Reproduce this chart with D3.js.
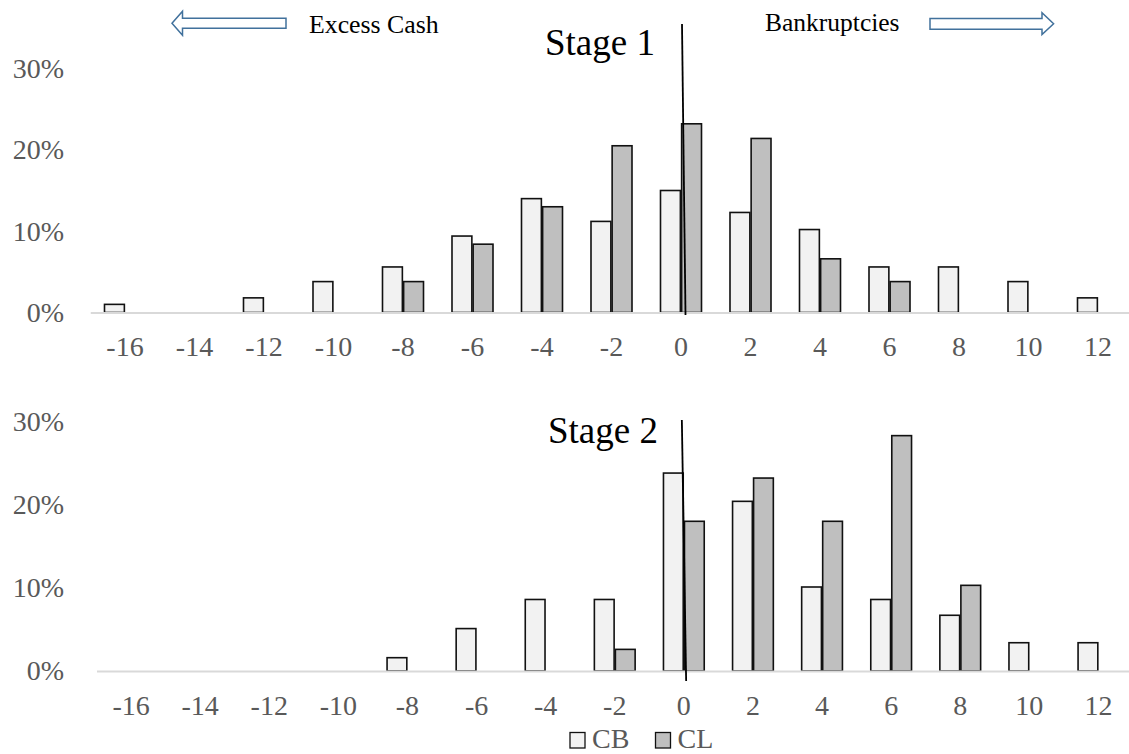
<!DOCTYPE html>
<html>
<head>
<meta charset="utf-8">
<script src="https://cdn.jsdelivr.net/npm/d3@7"></script>
<style>
  body { margin: 0; background: #fff; }
  svg { display: block; }
  text { font-family: "Liberation Serif", "Times New Roman", serif; }
</style>
</head>
<body>
<svg id="grafico" width="1129" height="754"></svg>
<script>
// categorias (diferença) e séries em %
var categorias = [-16, -14, -12, -10, -8, -6, -4, -2, 0, 2, 4, 6, 8, 10, 12]
var series = ["CB", "CL"]
var stage1CB = [1.0, 0, 1.8, 3.8, 5.6, 9.4, 14.0, 11.2, 15.0, 12.3, 10.2, 5.6, 5.6, 3.8, 1.8]
var stage1CL = [0, 0, 0, 0, 3.8, 8.4, 13.0, 20.5, 23.2, 21.4, 6.6, 3.8, 0, 0, 0]
var stage2CB = [0, 0, 0, 0, 1.6, 5.1, 8.6, 8.6, 23.8, 20.4, 10.1, 8.6, 6.7, 3.4, 3.4]
var stage2CL = [0, 0, 0, 0, 0, 0, 0, 2.6, 18.0, 23.2, 18.0, 28.3, 10.3, 0, 0]
var yTicks = [0, 10, 20, 30]

var cores = {CB: "#f2f2f2", CL: "#bfbfbf"},
    cinza = "#595959",
    azul = "#41719c",
    fonte = "'Liberation Serif', 'Times New Roman', serif"

var svg = d3.select("#grafico")

// paineis: posicao de cada grafico
var paineis = [
  {titulo: "Stage 1", cb: stage1CB, cl: stage1CL, x0: 90.25, x1: 1132.75, yBase: 312.5, yTopo: 68.5,
   linha: [1, 24, 4.5, 315], tituloX: 545, tituloY: 55},
  {titulo: "Stage 2", cb: stage2CB, cl: stage2CL, x0: 96.5, x1: 1133, yBase: 671, yTopo: 421.5,
   linha: [-2, 420, 2.3, 681], tituloX: 548, tituloY: 443}
]

paineis.forEach(function(p) {
  var x = d3.scaleBand().domain(categorias).range([p.x0, p.x1])
      .paddingInner(0.41).paddingOuter(0.205)
  var xs = d3.scaleBand().domain(series).range([0, x.bandwidth()]).paddingInner(0.06)
  var y = d3.scaleLinear().domain([0, 30]).range([p.yBase, p.yTopo])

  var dados = []
  categorias.forEach(function(c, i) {
    dados.push({cat: c, serie: "CB", v: p.cb[i]})
    dados.push({cat: c, serie: "CL", v: p.cl[i]})
  })

  var g = svg.append("g")

  // eixo y (só rótulos)
  var eixoY = g.append("g")
      .attr("transform", "translate(66,0)")
      .call(d3.axisLeft(y).tickValues(yTicks).tickSize(0).tickPadding(2)
            .tickFormat(function(d) { return d + "%" }))
  eixoY.select(".domain").remove()
  eixoY.selectAll("text").attr("fill", cinza).style("font-size", "28px")
      .style("font-family", fonte)

  // barras
  g.selectAll("rect.barra")
      .data(dados.filter(function(d) { return d.v > 0 }))
    .enter().append("rect")
      .attr("class", "barra")
      .attr("x", function(d) { return x(d.cat) + xs(d.serie) })
      .attr("width", xs.bandwidth())
      .attr("y", function(d) { return y(d.v) })
      .attr("height", function(d) { return y(0) - y(d.v) })
      .attr("fill", function(d) { return cores[d.serie] })
      .attr("stroke", "#111")
      .attr("stroke-width", 1.6)

  // eixo x (hífen simples como no original)
  var eixoX = g.append("g")
      .attr("transform", "translate(0," + p.yBase + ")")
      .call(d3.axisBottom(x).tickSize(0).tickSizeOuter(0).tickPadding(24)
            .tickFormat(function(d) { return String(d) }))
  eixoX.select(".domain").attr("stroke", "#d9d9d9").attr("stroke-width", 2)
  eixoX.selectAll("text").attr("fill", cinza).style("font-size", "28px")
      .style("font-family", fonte)

  // linha vertical no zero
  var cx = x(0) + x.bandwidth() / 2
  g.append("line")
      .attr("x1", cx + p.linha[0]).attr("y1", p.linha[1])
      .attr("x2", cx + p.linha[2]).attr("y2", p.linha[3])
      .attr("stroke", "#000").attr("stroke-width", 1.8)

  g.append("text")
      .attr("x", p.tituloX).attr("y", p.tituloY)
      .attr("fill", "#000").style("font-size", "37px")
      .text(p.titulo)
})

// setas e anotações do topo
svg.append("path")
    .attr("d", "M172,23.3 L182.5,11.3 L182.5,18.3 L286,18.3 L286,28.3 L182.5,28.3 L182.5,35.3 Z")
    .attr("fill", "#fff").attr("stroke", azul).attr("stroke-width", 1.5)
svg.append("path")
    .attr("d", "M930,18.5 L1042,18.5 L1042,12.7 L1053.6,23.8 L1042,34.6 L1042,29.2 L930,29.2 Z")
    .attr("fill", "#fff").attr("stroke", azul).attr("stroke-width", 1.5)

svg.append("text").attr("x", 309).attr("y", 33).attr("fill", "#000")
    .style("font-size", "25.8px").text("Excess Cash")
svg.append("text").attr("x", 765).attr("y", 31).attr("fill", "#000")
    .style("font-size", "25.5px").text("Bankruptcies")

// legenda
var legenda = svg.append("g")
var itens = legenda.selectAll("g").data(series).enter().append("g")
    .attr("transform", function(d, i) { return "translate(" + (570 + i * 85.5) + ",0)" })
itens.append("rect")
    .attr("x", 0).attr("y", 732.5).attr("width", 15).attr("height", 15.5)
    .attr("fill", function(d) { return cores[d] })
    .attr("stroke", "#111").attr("stroke-width", 1.3)
itens.append("text")
    .attr("x", 22).attr("y", 747.5)
    .attr("fill", cinza).style("font-size", "28px")
    .text(function(d) { return d })
</script>
</body>
</html>
